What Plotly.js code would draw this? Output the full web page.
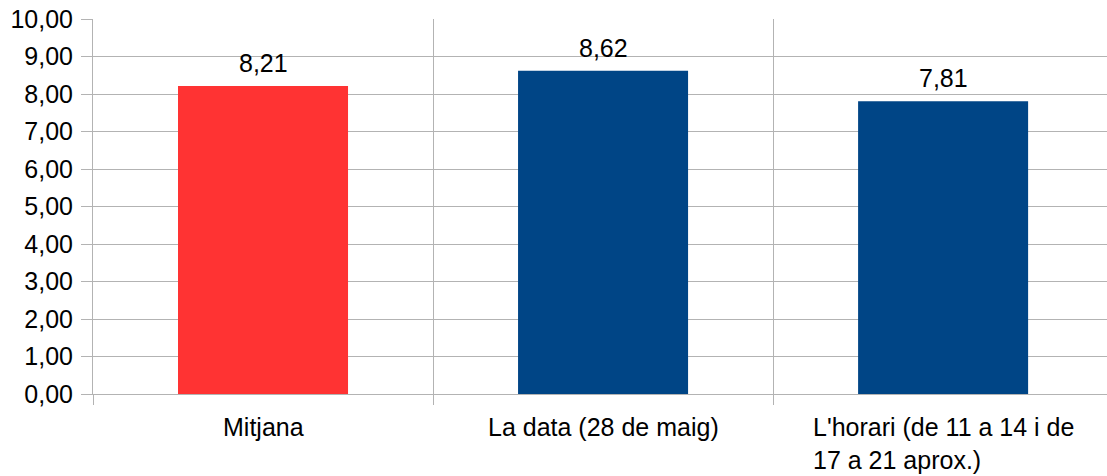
<!DOCTYPE html>
<html>
<head>
<meta charset="utf-8">
<script src="https://cdn.plot.ly/plotly-3.0.1.min.js"></script>
<style>html,body{margin:0;padding:0;background:#fff;overflow:hidden}#chart{width:1107px;height:476px}</style>
</head>
<body>
<div id="chart"></div>
<script>
const categories = ["Mitjana", "La data (28 de maig)", "L'horari (de 11 a 14 i de 17 a 21 aprox.)"];
const tickLabels = ["Mitjana", "La data (28 de maig)", "L'horari (de 11 a 14 i de<br>17 a 21 aprox.)"];
const values = [8.21, 8.62, 7.81];
const valueLabels = ["8,21", "8,62", "7,81"];
const barColors = ["#ff3333", "#004586", "#004586"];
const yTickVals = [0,1,2,3,4,5,6,7,8,9,10];
const yTickText = ["0,00","1,00","2,00","3,00","4,00","5,00","6,00","7,00","8,00","9,00","10,00"];

const font = {family: "Liberation Sans, Arial, sans-serif", size: 25, color: "#000"};
const grid = "#b3b3b3";

const trace = {
  type: "bar",
  x: categories,
  y: values,
  width: 0.5,
  marker: {color: barColors},
  hoverinfo: "none"
};

const annotations = [];
categories.forEach((c, i) => {
  annotations.push({
    x: c, y: values[i], xref: "x", yref: "y",
    text: valueLabels[i], showarrow: false,
    yanchor: "bottom", yshift: 7, font: font
  });
  annotations.push({
    x: c, y: 0, xref: "x", yref: "paper",
    text: tickLabels[i], showarrow: false,
    yanchor: "top", yshift: -17, align: "left", font: font
  });
});

const layout = {
  width: 1107, height: 476,
  margin: {l: 93, r: 0, t: 19, b: 82},
  paper_bgcolor: "#fff", plot_bgcolor: "#fff",
  font: font,
  showlegend: false,
  xaxis: {
    type: "category",
    range: [-0.5, 2.482],
    tickson: "boundaries",
    ticks: "outside", ticklen: 10, tickcolor: grid, tickwidth: 1,
    showgrid: true, gridcolor: grid, gridwidth: 1,
    showline: true, linecolor: grid, linewidth: 1,
    showticklabels: false,
    zeroline: false
  },
  yaxis: {
    range: [0, 10],
    tickvals: yTickVals, ticktext: yTickText,
    ticks: "outside", ticklen: 11, tickcolor: grid, tickwidth: 1,
    showgrid: true, gridcolor: grid, gridwidth: 1,
    showline: true, linecolor: grid, linewidth: 1,
    zeroline: false,
    tickfont: font,
    ticklabelstandoff: 3
  },
  annotations: annotations
};

Plotly.newPlot("chart", [trace], layout, {staticPlot: true, displayModeBar: false});
</script>
</body>
</html>
